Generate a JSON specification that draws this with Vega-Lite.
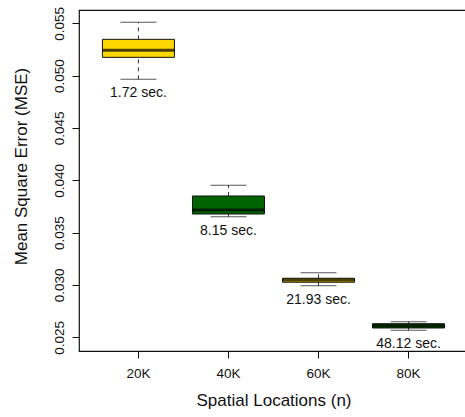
{
  "$schema": "https://vega.github.io/schema/vega-lite/v6.json",
  "autosize": "none",
  "padding": {"left": 79, "top": 10, "right": 0, "bottom": 66},
  "width": 389,
  "height": 341,
  "background": "white",
  "config": {
    "font": "Liberation Sans",
    "view": {"stroke": "#111", "strokeWidth": 1.2},
    "axis": {
      "domain": false,
      "grid": false,
      "tickColor": "#111",
      "tickSize": 7,
      "labelColor": "#111",
      "labelFontSize": 13.5,
      "titleColor": "#111",
      "titleFontSize": 17,
      "titleFontWeight": "normal"
    }
  },
  "data": {
    "values": [
      {"n": "20K", "min": 0.04965, "q1": 0.05175, "median": 0.05242, "q3": 0.05347, "max": 0.05510, "time": "1.72 sec."},
      {"n": "40K", "min": 0.03652, "q1": 0.03678, "median": 0.03716, "q3": 0.03850, "max": 0.03952, "time": "8.15 sec."},
      {"n": "60K", "min": 0.02993, "q1": 0.03026, "median": 0.03048, "q3": 0.03064, "max": 0.03117, "time": "21.93 sec."},
      {"n": "80K", "min": 0.02567, "q1": 0.02589, "median": 0.02611, "q3": 0.02630, "max": 0.02649, "time": "48.12 sec."}
    ]
  },
  "encoding": {
    "x": {
      "field": "n",
      "type": "ordinal",
      "sort": null,
      "scale": {"paddingInner": 0, "paddingOuter": 0.16},
      "axis": {"labelAngle": 0, "labelPadding": 8, "title": "Spatial Locations (n)", "titleY": 49, "titleBaseline": "middle"}
    }
  },
  "layer": [
    {
      "mark": {"type": "rule", "stroke": "#333", "strokeDash": [4, 4], "strokeWidth": 1},
      "encoding": {
        "y": {
          "field": "min",
          "type": "quantitative",
          "scale": {"domain": [0.023691, 0.056273], "nice": false, "zero": false},
          "axis": {
            "values": [0.025, 0.03, 0.035, 0.04, 0.045, 0.05, 0.055],
            "format": ".3f",
            "labelAngle": -90,
            "labelAlign": "center",
            "labelBaseline": "bottom",
            "labelPadding": 6,
            "title": "Mean Square Error (MSE)",
            "titleX": -58,
            "titleY": 156,
            "titleAngle": -90,
            "titleBaseline": "middle",
            "titleAlign": "center"
          }
        },
        "y2": {"field": "q1"}
      }
    },
    {
      "mark": {"type": "rule", "stroke": "#333", "strokeDash": [4, 4], "strokeWidth": 1},
      "encoding": {
        "y": {"field": "q3", "type": "quantitative"},
        "y2": {"field": "max"}
      }
    },
    {
      "mark": {"type": "tick", "color": "#111", "size": 36, "thickness": 1, "orient": "horizontal"},
      "encoding": {"y": {"field": "min", "type": "quantitative"}}
    },
    {
      "mark": {"type": "tick", "color": "#111", "size": 36, "thickness": 1, "orient": "horizontal"},
      "encoding": {"y": {"field": "max", "type": "quantitative"}}
    },
    {
      "mark": {"type": "bar", "width": 72, "stroke": "#111", "strokeWidth": 1},
      "encoding": {
        "y": {"field": "q1", "type": "quantitative"},
        "y2": {"field": "q3"},
        "fill": {
          "field": "n",
          "type": "nominal",
          "scale": {"domain": ["20K", "40K", "60K", "80K"], "range": ["#FFD700", "#006400", "#FFD700", "#006400"]},
          "legend": null
        }
      }
    },
    {
      "mark": {"type": "tick", "color": "#000", "size": 72, "thickness": 3, "orient": "horizontal"},
      "encoding": {"y": {"field": "median", "type": "quantitative"}}
    },
    {
      "mark": {"type": "text", "fontSize": 14, "color": "#111", "baseline": "middle", "align": "center", "dy": 14},
      "encoding": {
        "y": {"field": "min", "type": "quantitative"},
        "text": {"field": "time"}
      }
    }
  ]
}
